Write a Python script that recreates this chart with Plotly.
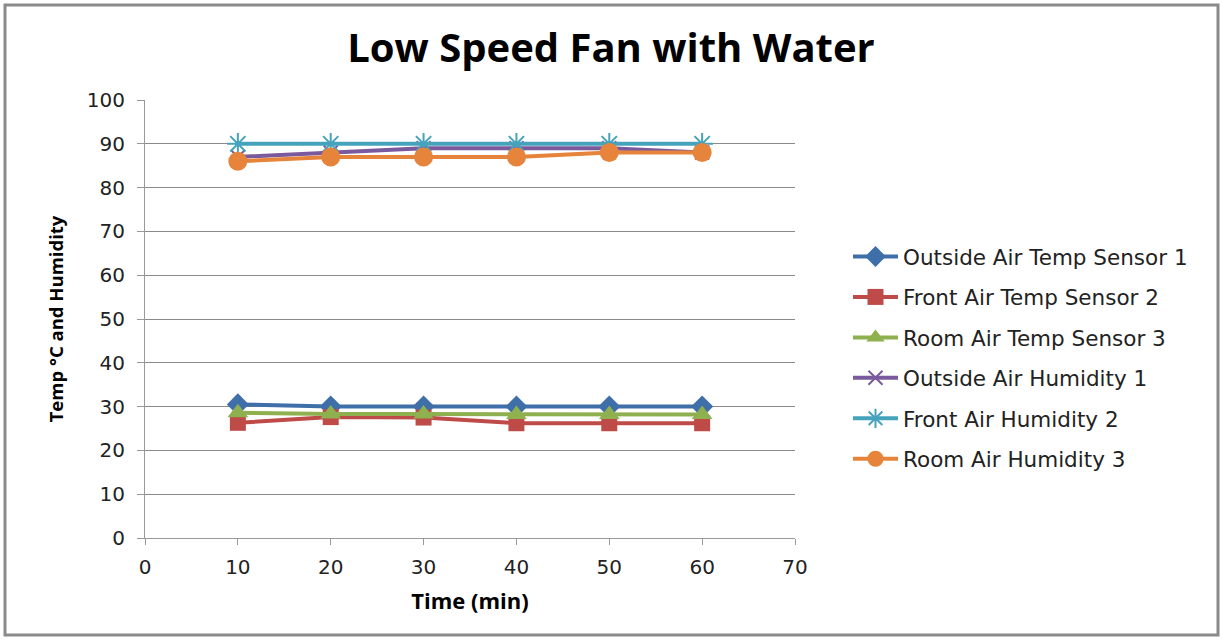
import plotly.graph_objects as go

time_min = [10, 20, 30, 40, 50, 60]
outside_temp = [30.5, 30, 30, 30, 30, 30]
front_temp = [26.3, 27.6, 27.5, 26.2, 26.2, 26.2]
room_temp = [28.6, 28.3, 28.3, 28.2, 28.2, 28.2]
outside_hum = [87, 88, 89, 89, 89, 88]
front_hum = [90, 90, 90, 90, 90, 90]
room_hum = [86, 87, 87, 87, 88, 88]

series_names = ["Outside Air Temp Sensor 1", "Front Air Temp Sensor 2", "Room Air Temp Sensor 3",
                "Outside Air Humidity 1", "Front Air Humidity 2", "Room Air Humidity 3"]
series_values = [outside_temp, front_temp, room_temp, outside_hum, front_hum, room_hum]
colors = ["#3F6FA8", "#BE4B48", "#8EB04F", "#7A5A9C", "#46A3BC", "#E5843A"]
symbols = ["diamond", "square", "triangle-up", "x-thin", "asterisk", "circle"]
sizes = [17, 16, 18, 14, 18, 19]

fig = go.Figure()
for i, (name, vals) in enumerate(zip(series_names, series_values)):
    thin = symbols[i] in ("x-thin", "asterisk")
    fig.add_trace(go.Scatter(
        x=time_min, y=vals, name=name, mode="lines+markers",
        legendgroup=str(i),
        line=dict(color=colors[i], width=4),
        marker=dict(symbol=symbols[i], size=sizes[i], color=colors[i],
                    line=dict(color=colors[i], width=2 if thin else 0)),
    ))

# plot area: x 145..795, y 100..538
L, R, T, B = 145, 795, 100, 538
W, H = 1222, 640
pw, ph = R - L, B - T

fig.update_layout(
    width=W, height=H,
    margin=dict(l=L, r=W - R, t=T, b=H - B),
    paper_bgcolor="white", plot_bgcolor="white",
    title=dict(text="<b>Low Speed Fan with Water</b>", x=0.5, xref="container",
               xanchor="center", y=1 - 48 / H, yanchor="middle",
               font=dict(family="Open Sans", size=40, color="black")),
    font=dict(family="DejaVu Sans", color="black"),
    legend=dict(x=(848 - L) / pw, xanchor="left", y=(B - 236) / ph, yanchor="top",
                font=dict(family="DejaVu Sans", size=21.5, color="#222"),
                tracegroupgap=9.5, traceorder="grouped", itemwidth=45,
                bgcolor="rgba(0,0,0,0)"),
    showlegend=True,
)
fig.update_xaxes(range=[0, 70], tick0=0, dtick=10, showgrid=False,
                 showline=True, linecolor="#999", linewidth=1,
                 ticks="outside", ticklen=6, tickcolor="#999",
                 tickfont=dict(family="DejaVu Sans", size=20, color="#222"),
                 ticklabelstandoff=5,
                 title=dict(text="<b>Time (min)</b>", font=dict(family="Open Sans", size=22), standoff=15),
                 zeroline=False)
fig.update_yaxes(range=[0, 100], tick0=0, dtick=10, showgrid=True, gridcolor="#8a8a8a", gridwidth=1,
                 showline=True, linecolor="#999", linewidth=1,
                 ticks="outside", ticklen=7, tickcolor="#999",
                 tickfont=dict(family="DejaVu Sans", size=20, color="#222"),
                 ticklabelstandoff=8,
                 title=dict(text="<b>Temp °C and Humidity</b>", font=dict(family="Open Sans", size=18.5), standoff=18),
                 zeroline=False)

# outer border
fig.add_shape(type="rect", xref="paper", yref="paper",
              x0=(5 - L) / pw, x1=(1218 - L) / pw,
              y0=(B - 635) / ph, y1=(B - 5) / ph,
              line=dict(color="#8a8a8a", width=3), fillcolor="rgba(0,0,0,0)", layer="below")

fig.write_html("out.html")
